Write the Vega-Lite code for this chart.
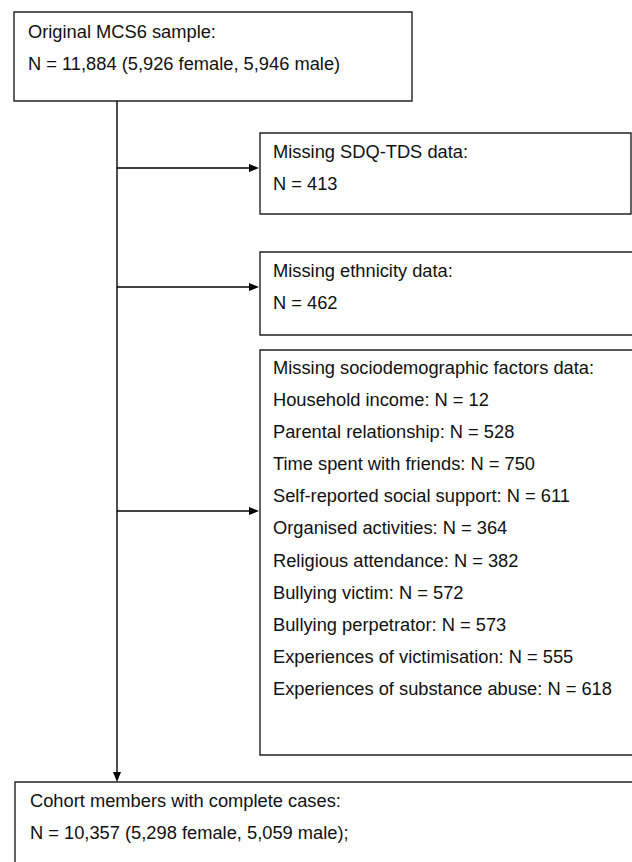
{
  "$schema": "https://vega.github.io/schema/vega-lite/v6.json",
  "width": 632,
  "height": 862,
  "padding": 0,
  "autosize": {"type": "fit", "contains": "padding"},
  "background": "white",
  "config": {"view": {"stroke": null}},
  "datasets": {
    "boxes": [
      {"box": "original", "x1": 14, "x2": 412, "y1": 12, "y2": 101},
      {"box": "sdq", "x1": 260, "x2": 631, "y1": 133, "y2": 214},
      {"box": "ethnicity", "x1": 260, "x2": 640, "y1": 252, "y2": 335},
      {"box": "socio", "x1": 260, "x2": 640, "y1": 350, "y2": 755},
      {"box": "complete", "x1": 15, "x2": 640, "y1": 782, "y2": 870}
    ],
    "lines": [
      {"seg": "trunk", "x1": 117, "x2": 117, "y1": 101, "y2": 775},
      {"seg": "to_sdq", "x1": 117, "x2": 252, "y1": 168, "y2": 168},
      {"seg": "to_ethnicity", "x1": 117, "x2": 252, "y1": 287, "y2": 287},
      {"seg": "to_socio", "x1": 117, "x2": 252, "y1": 511, "y2": 511}
    ],
    "arrows_right": [
      {"target": "sdq", "x": 259, "y": 168},
      {"target": "ethnicity", "x": 259, "y": 287},
      {"target": "socio", "x": 259, "y": 511}
    ],
    "arrows_down": [
      {"target": "complete", "x": 117, "y": 782}
    ],
    "labels": [
      {"x": 28, "y": 38, "text": "Original MCS6 sample:"},
      {"x": 28, "y": 70, "text": "N = 11,884 (5,926 female, 5,946 male)"},
      {"x": 273, "y": 158, "text": "Missing SDQ-TDS data:"},
      {"x": 273, "y": 190, "text": "N = 413"},
      {"x": 273, "y": 277, "text": "Missing ethnicity data:"},
      {"x": 273, "y": 309, "text": "N = 462"},
      {"x": 273, "y": 374, "text": "Missing sociodemographic factors data:"},
      {"x": 273, "y": 406, "text": "Household income: N = 12"},
      {"x": 273, "y": 438, "text": "Parental relationship: N = 528"},
      {"x": 273, "y": 470, "text": "Time spent with friends: N = 750"},
      {"x": 273, "y": 502, "text": "Self-reported social support: N = 611"},
      {"x": 273, "y": 534, "text": "Organised activities: N = 364"},
      {"x": 273, "y": 567, "text": "Religious attendance: N = 382"},
      {"x": 273, "y": 599, "text": "Bullying victim: N = 572"},
      {"x": 273, "y": 631, "text": "Bullying perpetrator: N = 573"},
      {"x": 273, "y": 663, "text": "Experiences of victimisation: N = 555"},
      {"x": 273, "y": 695, "text": "Experiences of substance abuse: N = 618"},
      {"x": 30, "y": 807, "text": "Cohort members with complete cases:"},
      {"x": 30, "y": 839, "text": "N = 10,357 (5,298 female, 5,059 male);"}
    ]
  },
  "layer": [
    {
      "data": {"name": "boxes"},
      "mark": {"type": "rect", "fill": "white", "stroke": "#222222", "strokeWidth": 1.4, "clip": true},
      "encoding": {
        "x": {"field": "x1", "type": "quantitative", "scale": {"domain": [0, 632], "nice": false, "zero": false}, "axis": null},
        "x2": {"field": "x2"},
        "y": {"field": "y1", "type": "quantitative", "scale": {"domain": [0, 862], "nice": false, "zero": false, "reverse": true}, "axis": null},
        "y2": {"field": "y2"}
      }
    },
    {
      "data": {"name": "lines"},
      "mark": {"type": "rule", "stroke": "#000000", "strokeWidth": 1.4},
      "encoding": {
        "x": {"field": "x1", "type": "quantitative"},
        "x2": {"field": "x2"},
        "y": {"field": "y1", "type": "quantitative"},
        "y2": {"field": "y2"}
      }
    },
    {
      "data": {"name": "arrows_right"},
      "mark": {"type": "point", "shape": "M0,0L-2,-0.8L-2,0.8Z", "filled": true, "color": "#000000", "opacity": 1, "size": 100, "strokeWidth": 0},
      "encoding": {
        "x": {"field": "x", "type": "quantitative"},
        "y": {"field": "y", "type": "quantitative"}
      }
    },
    {
      "data": {"name": "arrows_down"},
      "mark": {"type": "point", "shape": "M0,0L-0.8,-2L0.8,-2Z", "filled": true, "color": "#000000", "opacity": 1, "size": 100, "strokeWidth": 0},
      "encoding": {
        "x": {"field": "x", "type": "quantitative"},
        "y": {"field": "y", "type": "quantitative"}
      }
    },
    {
      "data": {"name": "labels"},
      "mark": {"type": "text", "align": "left", "baseline": "alphabetic", "font": "Liberation Sans", "fontSize": 18.3, "color": "#111111"},
      "encoding": {
        "x": {"field": "x", "type": "quantitative"},
        "y": {"field": "y", "type": "quantitative"},
        "text": {"field": "text"}
      }
    }
  ]
}
